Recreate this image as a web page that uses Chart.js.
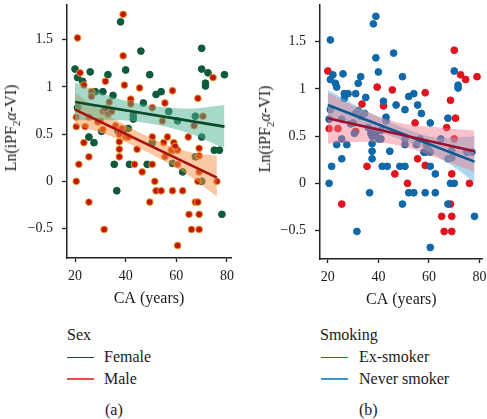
<!DOCTYPE html>
<html>
<head>
<meta charset="utf-8">
<script src="https://cdn.jsdelivr.net/npm/chart.js@4.4.0/dist/chart.umd.min.js"></script>
<style>
  body { margin: 0; background: #fff; width: 487px; height: 419px; position: relative; overflow: hidden; font-family: "Liberation Serif", "Times New Roman", serif; color: #1a1a1a; }
  canvas { position: absolute; top: 0; }
  #pa { left: 0; }
  #pb { left: 245px; }
  .ytitle { position: absolute; font-size: 16px; line-height: 16px; white-space: nowrap; transform: translate(-50%, -50%) rotate(-90deg); }
  .ytitle sub { font-size: 11px; line-height: 0; }
  .txt { position: absolute; font-size: 16px; line-height: 16px; white-space: nowrap; }
  .key { position: absolute; width: 27px; height: 1.5px; }
</style>
</head>
<body>
<canvas id="pa" width="245" height="310"></canvas>
<canvas id="pb" width="242" height="311"></canvas>

<div class="ytitle" style="left:11px;top:128px">Ln(iPF<sub>2</sub><i>α</i>-VI)</div>
<div class="ytitle" style="left:265px;top:129px">Ln(iPF<sub>2</sub><i>α</i>-VI)</div>

<div class="txt" style="left:67px;top:327px">Sex</div>
<div class="key" style="left:67px;top:356.5px;background:#1b4d35"></div>
<div class="txt" style="left:104px;top:349px">Female</div>
<div class="key" style="left:67px;top:378px;background:#e8504a"></div>
<div class="txt" style="left:104px;top:371px">Male</div>
<div class="txt" style="left:105px;top:402px">(a)</div>

<div class="txt" style="left:320px;top:327px">Smoking</div>
<div class="key" style="left:321px;top:356.5px;background:#e81a1a"></div>
<div class="txt" style="left:359px;top:349px">Ex-smoker</div>
<div class="key" style="left:321px;top:378px;background:#3a98c8"></div>
<div class="txt" style="left:359px;top:371px">Never smoker</div>
<div class="txt" style="left:359px;top:402px">(b)</div>

<script>
const ageTicks = [20, 40, 60, 80];
const lnTicks = [-0.5, 0, 0.5, 1, 1.5];

// [age, ln value], split by sex (F/M) and smoking (never/ex)
const femaleNever = [
  [21, 1.10], [26, 1.16], [23, 1.06], [33, 1.13], [40, 1.18], [49.5, 1.13], [31, 0.95], [28, 0.95],
  [35, 0.91], [47, 0.83], [52, 0.92], [54, 0.95], [57, 0.74], [70, 1.19], [71.5, 1.04], [71.5, 1.01],
  [67.5, 0.69], [75, 0.33], [77, 0.33], [70, 0], [21, 0.78], [25.5, 0.47], [27.5, 0.41], [30.5, 0.53],
  [37, 0.53], [39, 0.53], [41, 0.56], [43, 0.66], [43, 0.70], [48.5, 0.18], [41.5, 0.18], [50.5, 0.41],
  [58.5, 0.33], [62.5, 0.10], [60.5, 0.64], [36.5, -0.10], [78, -0.35], [38, 1.69], [46, 1.38], [67.5, 0.26]
];
const femaleEx = [
  [70, 1.41], [20, 1.19], [72.5, 1.15], [79, 1.13], [70, 0.47], [35.5, 0.18], [58.5, 0.19]
];
const maleNever = [
  [21, 1.52], [39, 1.77], [39, 1.33], [22, 1.15], [23.5, 1.02], [32, 1.06], [26.5, 0.95], [26.5, 0.90],
  [42, 0.87], [55.5, 0.83], [50.5, 0.78], [64.7, 0.47], [69, 0.35], [69, 0.27], [68.5, 0], [20.5, 0.68],
  [25.5, 0.68], [23.5, 0.41], [25.5, 0.26], [21.5, 0.18], [20.5, 0], [31, 0.74], [32, 0.77], [33, 0.71],
  [34.5, 0.74], [30, 0.64], [29, 0.63], [36, 0.59], [37.5, 0.50], [38.5, 0.56], [37.5, 0.42], [37.5, 0.34],
  [37.5, 0.26], [40, 0.47], [41, 0.47], [43.5, 0.18], [44.5, 0.34], [50.5, 0.47], [55, 0.41], [56.5, 0.47],
  [58, 0.33], [59, 0.41], [60.5, 0.33], [59.5, 0.37], [50.5, 0.18], [60.5, 0.18], [31.5, -0.51], [49.5, -0.22],
  [52, -0.10], [54, -0.10], [58.5, -0.10], [62.5, -0.10], [60.5, -0.68], [67.5, -0.22]
];
const maleEx = [
  [39.5, 1.02], [45.5, 0.99], [42, 0.82], [33.5, 0.84], [58.5, 0.96], [68.5, 0.88], [74.5, 1.10], [70.5, 0.69],
  [67, 0.59], [54.5, 0.64], [20.5, 0.58], [24, 0.58], [31, 0.55], [46.5, 0.10], [51.5, 0], [55.5, 0.26],
  [69, 0.10], [76, 0], [25.5, -0.22], [65, -0.35], [69, -0.35], [66, -0.51], [69, -0.51], [68.5, -0.22]
];

// fitted lines and confidence bands
const femaleBandAges = [20, 35, 50, 65, 79];
const femaleUpper = [1.05, 0.89, 0.80, 0.77, 0.81];
const femaleLower = [0.65, 0.65, 0.61, 0.51, 0.35];
const femaleFitAges = [20, 79];
const femaleFit = [0.84, 0.58];

const maleBandAges = [20, 35, 50, 65, 76];
const maleUpper = [0.94, 0.67, 0.46, 0.31, 0.27];
const maleLower = [0.60, 0.47, 0.29, 0.06, -0.16];
const maleFitAges = [20, 76];
const maleFit = [0.76, 0.04];

const exBandAges = [20, 35, 50, 65, 78];
const exUpper = [0.96, 0.76, 0.63, 0.59, 0.56];
const exLower = [0.42, 0.44, 0.39, 0.25, 0.12];
const exFitAges = [20, 78];
const exFit = [0.69, 0.34];

const neverBandAges = [20, 35, 50, 65, 78];
const neverUpper = [0.99, 0.77, 0.59, 0.48, 0.50];
const neverLower = [0.67, 0.58, 0.45, 0.26, 0.01];
const neverFitAges = [20, 78];
const neverFit = [0.83, 0.23];

const FONT = '"Liberation Serif", "Times New Roman", serif';

function toXY(pairs) {
  return pairs.map(([x, y]) => ({ x, y }));
}

function points(pairs, color, border, order) {
  return {
    type: 'scatter', data: toXY(pairs), backgroundColor: color, borderColor: border,
    borderWidth: 1, pointRadius: 3.4, pointHoverRadius: 3.4, order,
  };
}

function fitLine(ages, vals, color) {
  return {
    type: 'line', data: ages.map((x, i) => ({ x, y: vals[i] })), borderColor: color,
    borderWidth: 2.6, pointRadius: 0, fill: false, order: 0,
  };
}

// lower edge then upper edge filled down to it
function band(ages, lower, upper, color) {
  const edge = (vals) => ages.map((x, i) => ({ x, y: vals[i] }));
  return [
    { type: 'line', data: edge(lower), borderWidth: 0, pointRadius: 0, fill: false, cubicInterpolationMode: 'monotone', order: 1 },
    { type: 'line', data: edge(upper), borderWidth: 0, pointRadius: 0, fill: '-1', backgroundColor: color, cubicInterpolationMode: 'monotone', order: 1 },
  ];
}

function makePanel(id, datasets, xr, yr, leftW, rightPad, xAxisH) {
  new Chart(document.getElementById(id), {
    data: { datasets },
    options: {
      responsive: false,
      animation: false,
      events: [],
      layout: { padding: { left: 0, top: 0, right: rightPad, bottom: 0 } },
      plugins: { legend: { display: false }, tooltip: { enabled: false } },
      scales: {
        x: {
          type: 'linear', min: xr[0], max: xr[1],
          afterBuildTicks: (s) => { s.ticks = ageTicks.map((value) => ({ value })); },
          afterFit: (s) => { s.height = xAxisH; s.paddingLeft = 0; s.paddingRight = 0; },
          grid: { drawOnChartArea: false, tickLength: 4, tickWidth: 1.3, color: '#222' },
          border: { color: '#222', width: 1.5 },
          ticks: { color: '#1a1a1a', font: { family: FONT, size: 14 }, padding: 6, maxRotation: 0, autoSkip: false },
          title: { display: true, text: 'CA (years)', color: '#1a1a1a', font: { family: FONT, size: 16 }, padding: { top: 0, bottom: 2 } },
        },
        y: {
          type: 'linear', min: yr[0], max: yr[1],
          afterBuildTicks: (s) => { s.ticks = lnTicks.map((value) => ({ value })); },
          afterFit: (s) => { s.width = leftW; s.paddingTop = 0; s.paddingBottom = 0; },
          grid: { drawOnChartArea: false, tickLength: 5, tickWidth: 1.3, color: '#222' },
          border: { color: '#222', width: 1.5 },
          ticks: {
            color: '#1a1a1a', font: { family: FONT, size: 14 }, padding: 9, autoSkip: false,
            callback: (v) => (v < 0 ? '\u2212' + Math.abs(v) : String(v)),
          },
        },
      },
    },
  });
}

const greenPt = '#0f5a3a';
const redPtA = '#c0160c';
makePanel('pa', [
  fitLine(femaleFitAges, femaleFit, '#0a4a2a'),
  fitLine(maleFitAges, maleFit, '#a81010'),
  ...band(femaleBandAges, femaleLower, femaleUpper, 'rgba(80,180,150,0.5)'),
  ...band(maleBandAges, maleLower, maleUpper, 'rgba(245,145,70,0.5)'),
  points(maleNever.concat(maleEx), redPtA, 'rgba(236,165,40,0.9)', 2),
  points(femaleNever.concat(femaleEx), greenPt, greenPt, 3),
], [16.84, 81.58], [-0.8125, 1.875], 67, 14, 52);

const redPtB = '#e0141e';
const bluePt = '#1068a8';
makePanel('pb', [
  fitLine(exFitAges, exFit, '#9a1030'),
  fitLine(neverFitAges, neverFit, '#0a5a90'),
  ...band(exBandAges, exLower, exUpper, 'rgba(240,120,140,0.45)'),
  ...band(neverBandAges, neverLower, neverUpper, 'rgba(90,180,220,0.5)'),
  points(femaleNever.concat(maleNever), bluePt, bluePt, 2),
  points(femaleEx.concat(maleEx), redPtB, redPtB, 3),
], [16.9, 81.2], [-0.802, 1.896], 75, 2, 52);
</script>
</body>
</html>
